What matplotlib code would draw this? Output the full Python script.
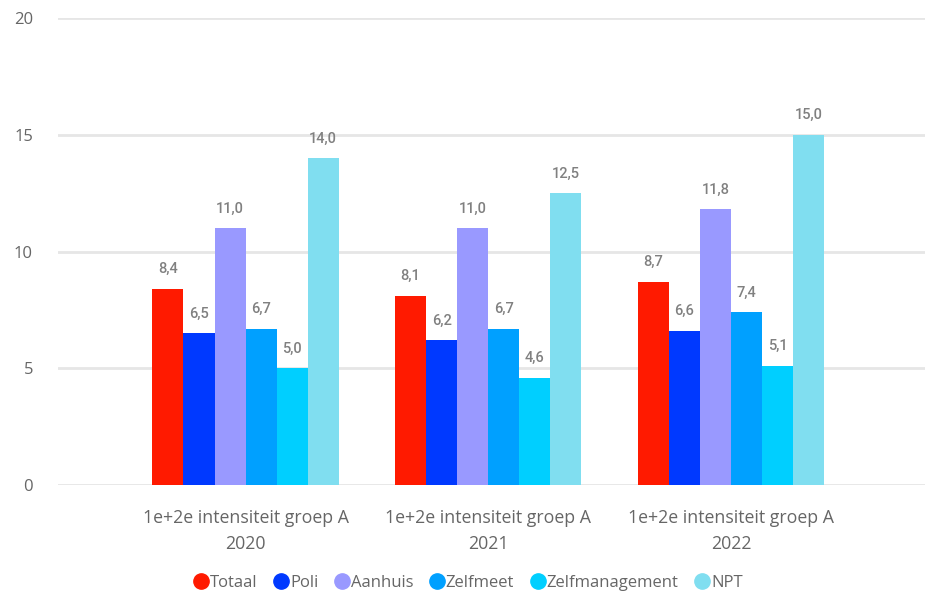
import numpy as np
import matplotlib.pyplot as plt

groups = ["1e+2e intensiteit groep A\n2020",
          "1e+2e intensiteit groep A\n2021",
          "1e+2e intensiteit groep A\n2022"]
series = ["Totaal", "Poli", "Aanhuis", "Zelfmeet", "Zelfmanagement", "NPT"]
totaal = [8.4, 8.1, 8.7]
poli = [6.5, 6.2, 6.6]
aanhuis = [11.0, 11.0, 11.8]
zelfmeet = [6.7, 6.7, 7.4]
zelfmanagement = [5.0, 4.6, 5.1]
npt = [14.0, 12.5, 15.0]
colors = ["#FF1A00", "#0039FF", "#9999FF", "#00A0FF", "#00CFFF", "#80DEF0"]

values = [totaal, poli, aanhuis, zelfmeet, zelfmanagement, npt]

fig = plt.figure(figsize=(9.25, 5.92), dpi=100)
ax = fig.add_axes([58/925, 1 - 485/592, (925-58)/925, (485-18)/592])

x = np.arange(len(groups))
w = 0.128
for i, (name, vals) in enumerate(zip(series, values)):
    pos = x + (i - 2.5) * w
    ax.bar(pos, vals, w, color=colors[i], label=name, zorder=3)
    for px, v in zip(pos, vals):
        ax.annotate(f"{v:.1f}".replace(".", ","), (px, v), xytext=(0, 9),
                    textcoords="offset points", ha="center", va="bottom",
                    fontsize=10.5, color="#808080", fontweight="medium",
                    fontfamily="Roboto")

ax.set_ylim(0, 20)
ax.set_xlim(-0.773, 2.80)
ax.set_yticks([0, 5, 10, 15, 20])
ax.grid(axis="y", color="#E6E6E6", linewidth=2, zorder=0)
ax.set_xticks(x)
ax.set_xticklabels(groups, fontsize=12.8, color="#666666", fontfamily="Open Sans",
                   linespacing=1.6)
for lbl in ax.get_yticklabels():
    lbl.set_fontsize(12)
    lbl.set_color("#666666")
    lbl.set_fontfamily("Open Sans")
ax.tick_params(axis="both", length=0)
ax.tick_params(axis="y", pad=18)
ax.tick_params(axis="x", pad=17)
for s in ax.spines.values():
    s.set_visible(False)

handles = [plt.Line2D([], [], marker="o", linestyle="", markersize=11,
                      color=c) for c in colors]
leg = fig.legend(handles, series, loc="center", bbox_to_anchor=(468/925, 1 - 583/592),
                 ncol=6, frameon=False, handletextpad=0.1, columnspacing=0.95,
                 handlelength=0.9, prop={"family": "Open Sans", "size": 12})
for t in leg.get_texts():
    t.set_color("#666666")

fig.savefig("out.png", dpi=100)
